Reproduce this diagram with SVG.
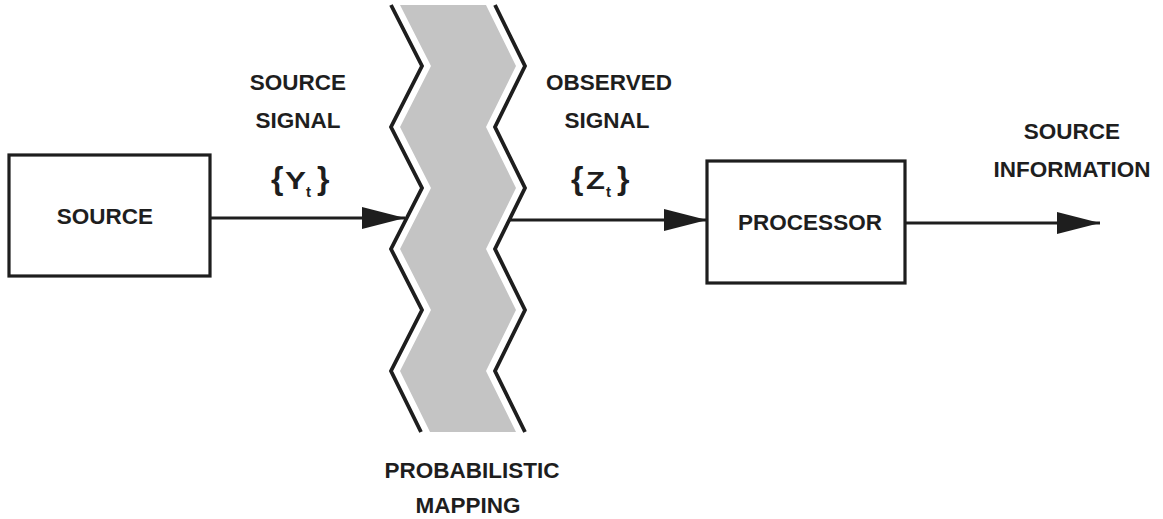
<svg xmlns="http://www.w3.org/2000/svg" width="1163" height="519" viewBox="0 0 1163 519">
  <style>
    .lbl { font-family: "Liberation Sans", Arial, Helvetica, sans-serif; font-weight: bold; font-size: 22.5px; fill: #1e1e1e; text-anchor: middle; }
    .sym { font-family: "Liberation Sans", Arial, Helvetica, sans-serif; font-weight: bold; fill: #1e1e1e; }
    .box { fill: #ffffff; stroke: #1e1e1e; stroke-width: 3.2; }
    .edge { fill: none; stroke: #1e1e1e; stroke-width: 3; }
    .zig { fill: none; stroke: #1e1e1e; stroke-width: 3.8; stroke-linejoin: miter; }
  </style>
  <defs>
    <marker id="arrow" markerUnits="userSpaceOnUse" markerWidth="44" markerHeight="24" refX="43" refY="11" orient="auto">
      <path d="M0,0 L43,11 L0,22 Z" fill="#1e1e1e"/>
    </marker>
  </defs>
  <rect width="1163" height="519" fill="#ffffff"/>

  <g id="mapping">
    <polygon fill="#c4c4c4" points="400,5 431,66 400,127 431,188 400,249 431,310 400,371 430,432 516,432 486,371 516,310 486,249 516,188 486,127 516,66 486,5"/>
    <polyline class="zig" points="391,5 422,66 391,127 422,188 391,249 422,310 391,371 421,432"/>
    <polyline class="zig" points="495,5 525,66 495,127 525,188 495,249 525,310 495,371 525,432"/>
    <text class="lbl" x="472" y="478">PROBABILISTIC</text>
    <text class="lbl" x="468" y="513">MAPPING</text>
  </g>

  <g id="source">
    <rect class="box" x="9" y="155" width="201" height="121"/>
    <text class="lbl" x="105" y="224">SOURCE</text>
  </g>

  <g id="processor">
    <rect class="box" x="707" y="161" width="198" height="122"/>
    <text class="lbl" x="810" y="230">PROCESSOR</text>
  </g>

  <g id="connectors">
    <line class="edge" x1="210" y1="218" x2="405" y2="218" marker-end="url(#arrow)"/>
    <line class="edge" x1="509" y1="220" x2="707" y2="220" marker-end="url(#arrow)"/>
    <line class="edge" x1="905" y1="223" x2="1100" y2="223" marker-end="url(#arrow)"/>
  </g>

  <g id="labels">
    <text class="lbl" x="298" y="90">SOURCE</text>
    <text class="lbl" x="298" y="128">SIGNAL</text>
    <text class="sym"><tspan x="271" y="189" font-size="32">{</tspan><tspan x="285" y="189" font-size="24" textLength="21" lengthAdjust="spacingAndGlyphs">Y</tspan><tspan x="306" y="197" font-size="15">t</tspan><tspan x="317" y="189" font-size="32">}</tspan></text>

    <text class="lbl" x="609" y="90">OBSERVED</text>
    <text class="lbl" x="607" y="128">SIGNAL</text>
    <text class="sym"><tspan x="571" y="189" font-size="32">{</tspan><tspan x="586" y="189" font-size="24" textLength="19" lengthAdjust="spacingAndGlyphs">Z</tspan><tspan x="606" y="197" font-size="15">t</tspan><tspan x="617" y="189" font-size="32">}</tspan></text>

    <text class="lbl" x="1072" y="139">SOURCE</text>
    <text class="lbl" x="1072" y="177">INFORMATION</text>
  </g>
</svg>
